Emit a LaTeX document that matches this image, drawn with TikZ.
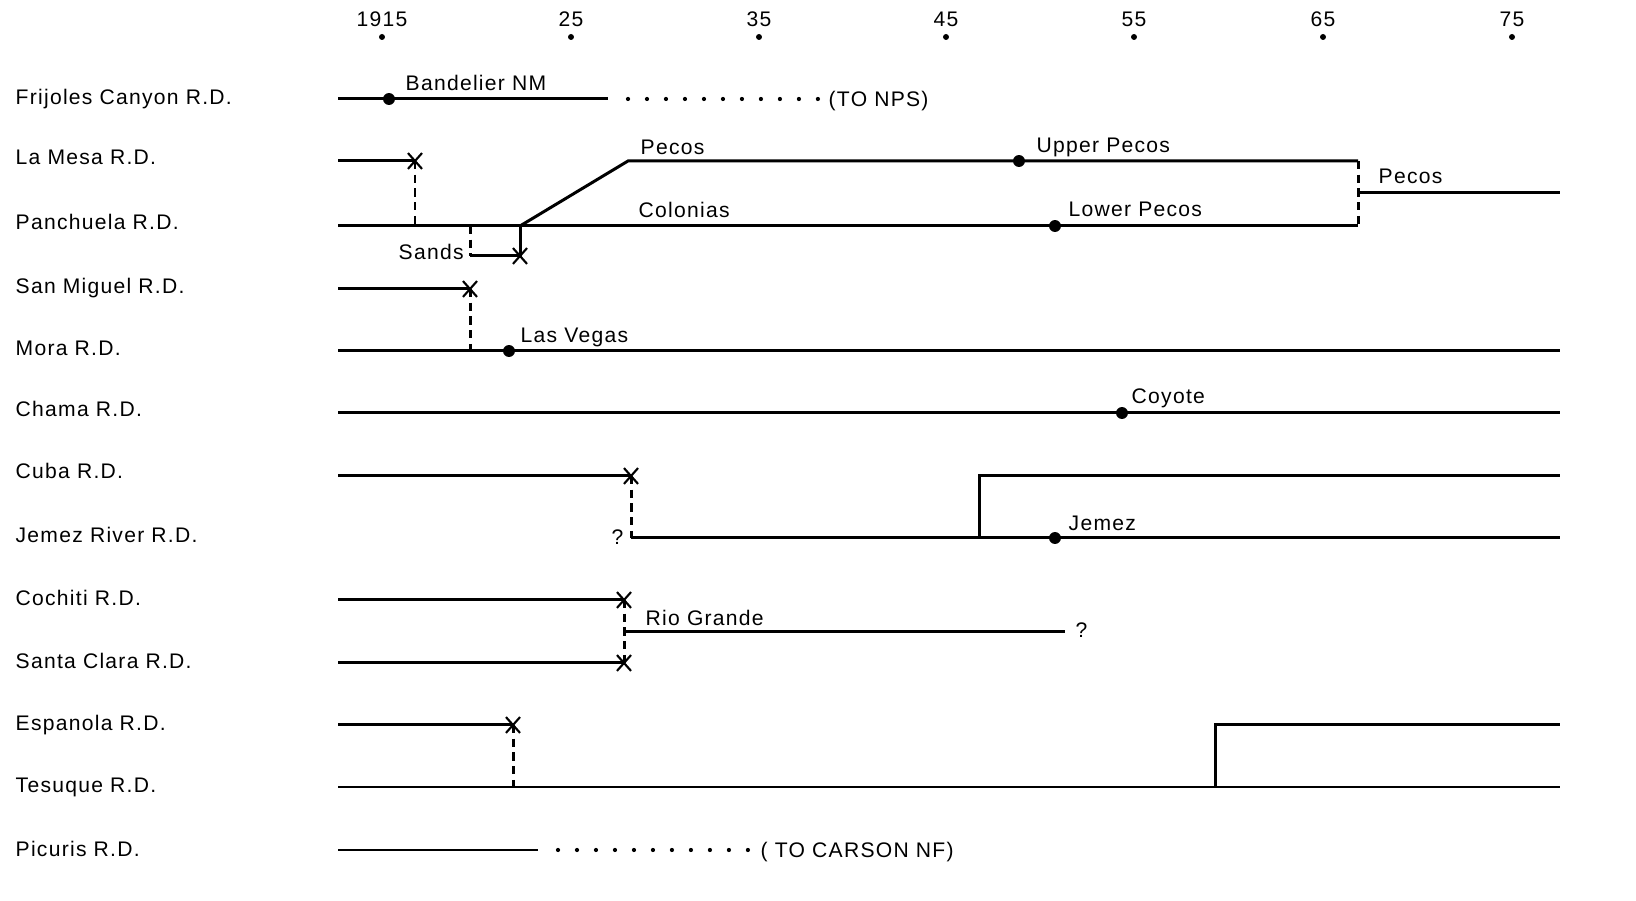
\documentclass[tikz,border=0pt]{standalone}
\usepackage{fontspec}
\setmainfont{Liberation Sans}[LetterSpace=6]
\usetikzlibrary{shapes.misc}
\begin{document}
\begin{tikzpicture}[x=0.01cm,y=-0.01cm,
  ln/.style={line width=0.85pt},
  vdashed/.style={line width=0.85pt, dash pattern=on 2.3pt off 1.6pt},
  dotline/.style={line width=1.2pt, line cap=round, dash pattern=on 0pt off 5.4pt},
  lab/.style={font=\fontsize{6}{7}\selectfont, inner sep=0pt, anchor=base west},
  yr/.style={font=\fontsize{6}{7}\selectfont, inner sep=0pt, anchor=base},
  ev/.style={circle, fill, inner sep=0pt, minimum size=3.4pt},
  tck/.style={circle, fill, inner sep=0pt, minimum size=1.7pt},
  xm/.style={cross out, draw, line width=0.6pt, inner sep=0pt, minimum width=3.4pt, minimum height=3.9pt}]
\useasboundingbox (0,0) rectangle (1636,901);
% axis
\foreach \yl/\xx [count=\i] in {1915/382,25/571,35/759,45/946,55/1134,65/1323,75/1512}{
  \node[yr] (yl\i) at (\xx,26.5) {\yl};
  \node[tck] (yt\i) at (\xx,37) {};
}
% row labels
\node[lab] (rFri) at (15,104.5) {Frijoles Canyon R.D.};
\node[lab] (rLaM) at (15,164.5) {La Mesa R.D.};
\node[lab] (rPan) at (15,229.5) {Panchuela R.D.};
\node[lab] (rSaM) at (15,293.5) {San Miguel R.D.};
\node[lab] (rMor) at (15,355.5) {Mora R.D.};
\node[lab] (rCha) at (15,416.5) {Chama R.D.};
\node[lab] (rCub) at (15,478.5) {Cuba R.D.};
\node[lab] (rJem) at (15,542.5) {Jemez River R.D.};
\node[lab] (rCoc) at (15,605.5) {Cochiti R.D.};
\node[lab] (rSaC) at (15,668.5) {Santa Clara R.D.};
\node[lab] (rEsp) at (15,730.5) {Espanola R.D.};
\node[lab] (rTes) at (15,792.5) {Tesuque R.D.};
\node[lab] (rPic) at (15,856.5) {Picuris R.D.};

% Frijoles
\coordinate (f0) at (338,99); \coordinate (f2) at (608,99);
\coordinate (f3) at (628,99); \coordinate (f4) at (819,99);
\draw[ln] (f0) -- (f2);
\draw[dotline] (f3) -- (f4);
\node[ev] (f1) at (389,99) {};
\node[lab] (tBan) at (405,90.5) {Bandelier NM};
\node[lab] (tNPS) at (828,106.5) {(TO NPS)};

% La Mesa -> Panchuela
\coordinate (lm0) at (338,161);
\node[xm] (lmx) at (415,161) {};
\coordinate (pa1) at (415,226);
\draw[ln] (lm0) -- (lmx.center);
\draw[vdashed] (lmx.center) -- (pa1);

% Panchuela
\coordinate (pa0) at (338,226); \coordinate (pa2) at (1358,226);
\draw[ln] (pa0) -- (pa2);
\node[ev] (pad) at (1055,226) {};
\node[lab] (tCol) at (638,217.5) {Colonias};
\node[lab] (tLoP) at (1068,216.5) {Lower Pecos};

% Pecos
\coordinate (pj) at (520,226); \coordinate (pc1) at (628,161); \coordinate (pc2) at (1358,161);
\draw[ln] (pj) -- (pc1) -- (pc2);
\node[ev] (pcd) at (1019,161) {};
\node[lab] (tPec) at (640,154.5) {Pecos};
\node[lab] (tUpP) at (1036,152.5) {Upper Pecos};
\draw[vdashed] (pc2) -- (pa2);
\coordinate (pr0) at (1358,193); \coordinate (pr1) at (1560,193);
\draw[ln] (pr0) -- (pr1);
\node[lab] (tPec2) at (1378,183.5) {Pecos};

% Sands
\coordinate (s0) at (470,226); \coordinate (s1) at (470,256);
\node[xm] (sx) at (520,256) {};
\draw[vdashed] (s0) -- (s1);
\draw[ln] (s1) -- (sx.center) -- (pj);
\node[lab] (tSan) at (398,259.5) {Sands};

% San Miguel -> Mora
\coordinate (sm0) at (338,289);
\node[xm] (smx) at (470,289) {};
\coordinate (mo1) at (470,351);
\draw[ln] (sm0) -- (smx.center);
\draw[vdashed] (smx.center) -- (mo1);

% Mora
\coordinate (mo0) at (338,351); \coordinate (mo2) at (1560,351);
\draw[ln] (mo0) -- (mo2);
\node[ev] (mod) at (509,351) {};
\node[lab] (tLaV) at (520,342.5) {Las Vegas};

% Chama
\coordinate (ch0) at (338,413); \coordinate (ch2) at (1560,413);
\draw[ln] (ch0) -- (ch2);
\node[ev] (chd) at (1122,413) {};
\node[lab] (tCoy) at (1131,403.5) {Coyote};

% Cuba -> Jemez
\coordinate (cu0) at (338,476);
\node[xm] (cux) at (631,476) {};
\coordinate (je1) at (631,538); \coordinate (je2) at (1560,538);
\draw[ln] (cu0) -- (cux.center);
\draw[vdashed] (cux.center) -- (je1);
\draw[ln] (je1) -- (je2);
\coordinate (jv0) at (979,538); \coordinate (jv1) at (979,476); \coordinate (jv2) at (1560,476);
\draw[ln] (jv0) -- (jv1) -- (jv2);
\node[ev] (jed) at (1055,538) {};
\node[lab] (tQ1) at (611,544.5) {?};
\node[lab] (tJem) at (1068,530.5) {Jemez};

% Cochiti / Santa Clara -> Rio Grande
\coordinate (co0) at (338,600);
\node[xm] (cox) at (624,600) {};
\coordinate (sc0) at (338,663);
\node[xm] (scx) at (624,663) {};
\draw[ln] (co0) -- (cox.center);
\draw[ln] (sc0) -- (scx.center);
\draw[vdashed] (cox.center) -- (scx.center);
\coordinate (rg0) at (624,632); \coordinate (rg1) at (1065,632);
\draw[ln] (rg0) -- (rg1);
\node[lab] (tRio) at (645,625.5) {Rio Grande};
\node[lab] (tQ2) at (1075,638) {?};

% Espanola -> Tesuque
\coordinate (es0) at (338,725);
\node[xm] (esx) at (513,725) {};
\coordinate (te1) at (513,787);
\draw[ln] (es0) -- (esx.center);
\draw[vdashed] (esx.center) -- (te1);
\coordinate (te0) at (338,787); \coordinate (te2) at (1560,787);
\draw[ln] (te0) -- (te2);
\coordinate (ev0) at (1215,787); \coordinate (ev1) at (1215,725); \coordinate (ev2) at (1560,725);
\draw[ln] (ev0) -- (ev1) -- (ev2);

% Picuris
\coordinate (pi0) at (338,850); \coordinate (pi1) at (538,850);
\coordinate (pi2) at (558,850); \coordinate (pi3) at (749,850);
\draw[ln] (pi0) -- (pi1);
\draw[dotline] (pi2) -- (pi3);
\node[lab] (tCar) at (760,857.5) {( TO CARSON NF)};
\end{tikzpicture}
\end{document}
